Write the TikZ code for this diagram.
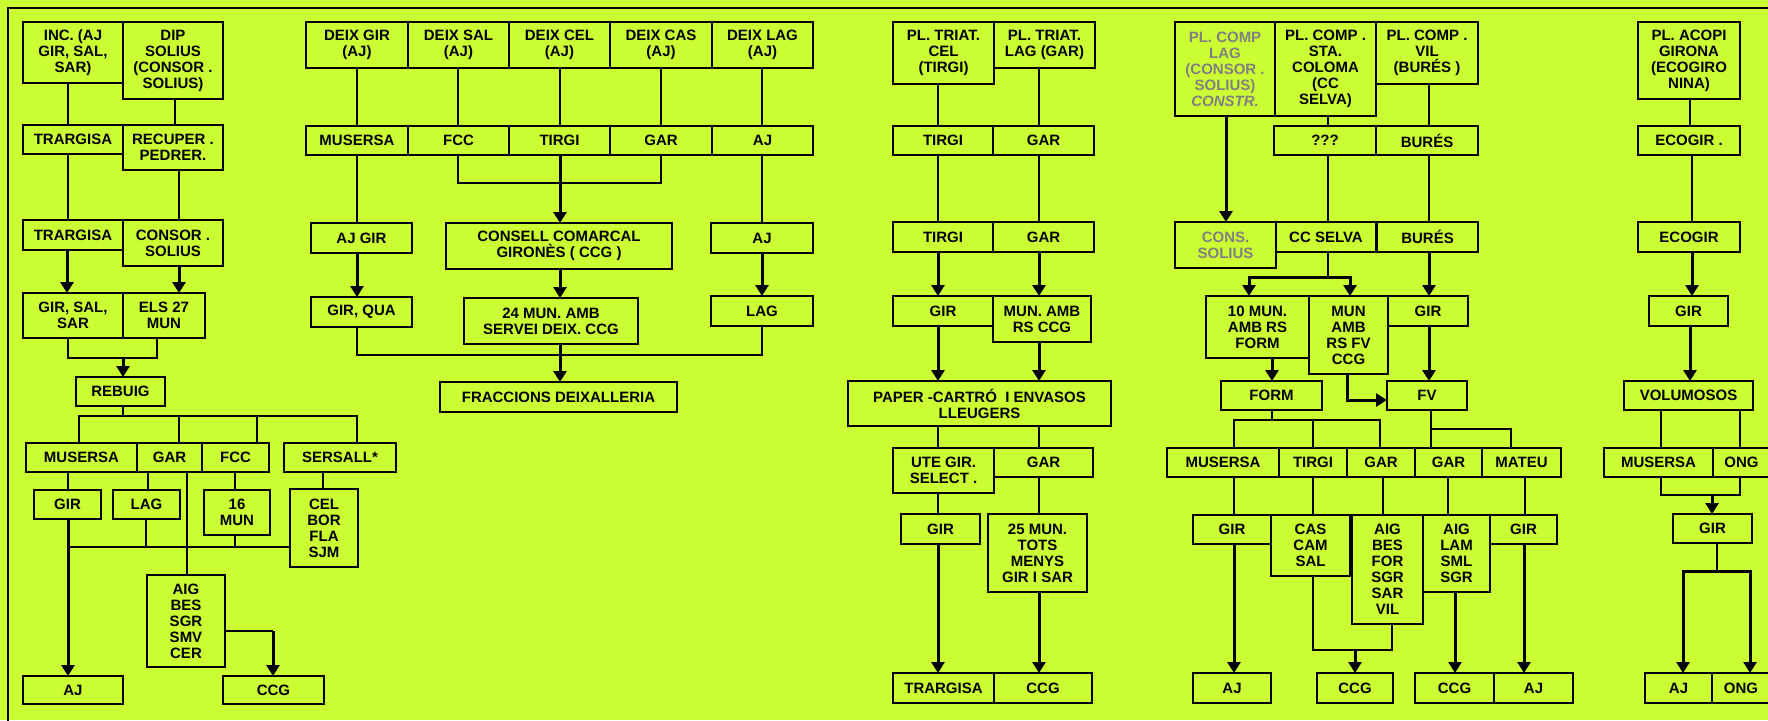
\documentclass[tikz,border=0pt]{standalone}
\usepackage{fontspec}
\setmainfont{Liberation Sans}
\usetikzlibrary{arrows.meta}
\definecolor{bg}{RGB}{204,255,51}
\definecolor{greytxt}{RGB}{128,128,128}
\tikzset{
  box/.style={draw=black, line width=1pt, inner sep=0pt, outer sep=0pt, align=center,
    font=\fontsize{7.5}{8}\selectfont\bfseries, rectangle},
  greybox/.style={box, text=greytxt},
  thinln/.style={line width=0.75pt},
  thickln/.style={line width=1.5pt},
  thickar/.style={line width=1.5pt, -{Triangle[width=6.5pt,length=5.5pt]}},
}
\newcommand\bx[6]{\node[box, minimum width={(#4-#2)*0.5pt}, minimum height={(#5-#3)*0.5pt}] (#1) at ({(#2+#4)/2},{(#3+#5)/2}) {#6};}
\newcommand\gbx[6]{\node[greybox, minimum width={(#4-#2)*0.5pt}, minimum height={(#5-#3)*0.5pt}] (#1) at ({(#2+#4)/2},{(#3+#5)/2}) {#6};}
\newcommand\Cthin[3]{\draw[thinln] (#1,0 |- #2.south) -- (#1,0 |- #3.north);}
\newcommand\Carrow[3]{\draw[thickar] (#1,0 |- #2.south) -- (#1,0 |- #3.north);}
\begin{document}
\begin{tikzpicture}[x=0.5pt, y=-0.5pt]
\fill[bg] (0,0) rectangle (1768,720);
\useasboundingbox (0,0) rectangle (1768,720);
\draw[line width=1pt] (8,730) -- (8,8) -- (1780,8);

% ---------- Column 1 ----------
\bx{inc}{23}{22}{123}{83}{INC. (AJ\\GIR, SAL,\\SAR)}
\bx{dip}{123}{22}{223}{99}{DIP\\SOLIUS\\(CONSOR .\\SOLIUS)}
\bx{trgA}{23}{125}{123}{154}{TRARGISA}
\bx{rec}{123}{125}{223}{170}{RECUPER .\\PEDRER.}
\bx{trgB}{23}{220}{123}{250}{TRARGISA}
\bx{cso}{123}{220}{223}{266}{CONSOR .\\SOLIUS}
\bx{gss}{23}{293}{123}{338}{GIR, SAL,\\SAR}
\bx{els}{123}{293}{205}{338}{ELS 27\\MUN}
\bx{reb}{76}{377}{165}{406}{REBUIG}
\bx{mus1}{26}{443}{137}{472}{MUSERSA}
\bx{gar1}{137}{443}{202}{472}{GAR}
\bx{fcc1}{202}{443}{269}{472}{FCC}
\bx{ser}{284}{443}{396}{472}{SERSALL*}
\bx{gir1}{34}{490}{101}{519}{GIR}
\bx{lag1}{113}{490}{180}{519}{LAG}
\bx{m16}{204}{490}{270}{535}{16\\MUN}
\bx{cel}{290}{489}{358}{567}{CEL\\BOR\\FLA\\SJM}
\bx{aig1}{147}{575}{225}{667}{AIG\\BES\\SGR\\SMV\\CER}
\bx{aj1}{23}{676}{123}{704}{AJ}
\bx{ccg1}{223}{676}{324}{704}{CCG}

\Cthin{68}{inc}{trgA}
\Cthin{175}{dip}{rec}
\Cthin{68}{trgA}{trgB}
\Cthin{179}{rec}{cso}
\Carrow{67}{trgB}{gss}
\Carrow{179}{cso}{els}
\draw[thinln] (68,0 |- gss.south) -- (68,358) -- (157,358) -- (157,0 |- els.south);
\draw[thickar] (123,358) -- (123,0 |- reb.north);
\draw[thinln] (123,0 |- reb.south) -- (123,416);
\draw[thinln] (79,0 |- mus1.north) -- (79,416) -- (357,416) -- (357,0 |- ser.north);
\draw[thinln] (179,416) -- (179,0 |- gar1.north);
\draw[thinln] (257,416) -- (257,0 |- fcc1.north);
\Cthin{68}{mus1}{gir1}
\Cthin{148}{gar1}{lag1}
\Cthin{235}{fcc1}{m16}
\Cthin{187}{gar1}{aig1}
\Cthin{323}{ser}{cel}
\draw[thinln] (68,547) -- (cel.west |- 0,547);
\draw[thinln] (146,0 |- lag1.south) -- (146,547);
\draw[thinln] (235,0 |- m16.south) -- (235,547);
\Carrow{68}{gir1}{aj1}
\draw[thinln] (aig1.east |- 0,631) -- (273,631);
\draw[thickar] (273,631) -- (273,0 |- ccg1.north);

% ---------- Column 2 ----------
\bx{dgir}{306}{22}{408}{68}{DEIX GIR\\(AJ)}
\bx{dsal}{408}{22}{509}{68}{DEIX SAL\\(AJ)}
\bx{dcel}{509}{22}{610}{68}{DEIX CEL\\(AJ)}
\bx{dcas}{610}{22}{712}{68}{DEIX CAS\\(AJ)}
\bx{dlag}{712}{22}{813}{68}{DEIX LAG\\(AJ)}
\bx{mus2}{306}{126}{408}{155}{MUSERSA}
\bx{fcc2}{408}{126}{509}{155}{FCC}
\bx{tir2}{509}{126}{610}{155}{TIRGI}
\bx{gar2}{610}{126}{712}{155}{GAR}
\bx{aj2}{712}{126}{813}{155}{AJ}
\bx{ajgir}{311}{223}{412}{253}{AJ GIR}
\bx{girqua}{311}{297}{412}{327}{GIR, QUA}
\bx{cons}{446}{223}{672}{269}{CONSELL COMARCAL\\GIRONÈS ( CCG )}
\bx{m24}{464}{298}{638}{344}{24 MUN. AMB\\SERVEI DEIX. CCG}
\bx{frac}{440}{382}{677}{412}{FRACCIONS DEIXALLERIA}
\bx{aj3}{711}{223}{813}{253}{AJ}
\bx{lag2}{711}{296}{813}{326}{LAG}

\Cthin{357}{dgir}{mus2}
\Cthin{458}{dsal}{fcc2}
\Cthin{560}{dcel}{tir2}
\Cthin{661}{dcas}{gar2}
\Cthin{762}{dlag}{aj2}
\Cthin{357}{mus2}{ajgir}
\Carrow{357}{ajgir}{girqua}
\draw[thinln] (458,0 |- fcc2.south) -- (458,183) -- (661,183) -- (661,0 |- gar2.south);
\Carrow{560}{tir2}{cons}
\Carrow{560}{cons}{m24}
\draw[thinln] (357,0 |- girqua.south) -- (357,355) -- (762,355) -- (762,0 |- lag2.south);
\Carrow{560}{m24}{frac}
\Cthin{762}{aj2}{aj3}
\Carrow{762}{aj3}{lag2}

% ---------- Column 3 ----------
\bx{ptc}{893}{22}{994}{84}{PL. TRIAT.\\CEL\\(TIRGI)}
\bx{ptl}{994}{22}{1095}{68}{PL. TRIAT.\\LAG (GAR)}
\bx{tir3}{893}{126}{993}{155}{TIRGI}
\bx{gar3}{993}{126}{1094}{155}{GAR}
\bx{tir4}{893}{222}{993}{252}{TIRGI}
\bx{gar4}{993}{222}{1094}{252}{GAR}
\bx{gir3}{893}{296}{993}{326}{GIR}
\bx{munrs}{993}{296}{1091}{342}{MUN. AMB\\RS CCG}
\bx{paper}{848}{381}{1111}{426}{PAPER -CARTRÓ\ \ I ENVASOS\\LLEUGERS}
\bx{ute}{893}{448}{994}{493}{UTE GIR.\\SELECT .}
\bx{gar5}{994}{448}{1093}{477}{GAR}
\bx{gir4}{901}{514}{980}{544}{GIR}
\bx{m25}{988}{514}{1087}{592}{25 MUN.\\TOTS\\MENYS\\GIR I SAR}
\bx{trg3}{893}{673}{994}{703}{TRARGISA}
\bx{ccg3}{994}{673}{1092}{703}{CCG}

\Cthin{938}{ptc}{tir3}
\Cthin{1039}{ptl}{gar3}
\Cthin{938}{tir3}{tir4}
\Cthin{1039}{gar3}{gar4}
\Carrow{938}{tir4}{gir3}
\Carrow{1039}{gar4}{munrs}
\Carrow{938}{gir3}{paper}
\Carrow{1039}{munrs}{paper}
\Cthin{938}{paper}{ute}
\Cthin{1039}{paper}{gar5}
\Cthin{938}{ute}{gir4}
\Cthin{1039}{gar5}{m25}
\Carrow{938}{gir4}{trg3}
\Carrow{1039}{m25}{ccg3}

% ---------- Column 4 ----------
\gbx{pcl}{1175}{22}{1275}{116}{PL. COMP\\LAG\\(CONSOR .\\SOLIUS)\\\textit{CONSTR.}}
\bx{pcs}{1275}{22}{1376}{116}{PL. COMP .\\STA.\\COLOMA\\(CC\\SELVA)}
\bx{pcv}{1376}{22}{1478}{84}{PL. COMP .\\VIL\\(BURÉS )}
\bx{qqq}{1274}{126}{1376}{155}{???}
\bx{bur1}{1376}{126}{1478}{155}{BURÉS}
\gbx{cns}{1175}{222}{1276}{268}{CONS.\\SOLIUS}
\bx{ccs}{1276}{222}{1376}{252}{CC SELVA}
\bx{bur2}{1377}{222}{1478}{252}{BURÉS}
\bx{m10}{1206}{296}{1309}{358}{10 MUN.\\AMB RS\\FORM}
\bx{mfv}{1309}{296}{1388}{374}{MUN\\AMB\\RS FV\\CCG}
\bx{gir5}{1388}{296}{1468}{326}{GIR}
\bx{form}{1221}{381}{1322}{410}{FORM}
\bx{fv}{1387}{381}{1467}{410}{FV}
\bx{mus4}{1167}{448}{1279}{477}{MUSERSA}
\bx{tir5}{1279}{448}{1347}{477}{TIRGI}
\bx{gar6}{1347}{448}{1415}{477}{GAR}
\bx{gar7}{1415}{448}{1482}{477}{GAR}
\bx{mat}{1482}{448}{1561}{477}{MATEU}
\bx{gir6}{1193}{515}{1271}{544}{GIR}
\bx{cas}{1271}{515}{1350}{576}{CAS\\CAM\\SAL}
\bx{aig2}{1352}{515}{1423}{624}{AIG\\BES\\FOR\\SGR\\SAR\\VIL}
\bx{aig3}{1423}{515}{1490}{592}{AIG\\LAM\\SML\\SGR}
\bx{gir7}{1490}{515}{1557}{544}{GIR}
\bx{aj4}{1193}{673}{1271}{703}{AJ}
\bx{ccg4}{1317}{673}{1393}{703}{CCG}
\bx{ccg5}{1415}{673}{1494}{703}{CCG}
\bx{aj5}{1494}{673}{1573}{703}{AJ}

\Carrow{1226}{pcl}{cns}
\Cthin{1328}{pcs}{qqq}
\Cthin{1429}{pcv}{bur1}
\Cthin{1328}{qqq}{ccs}
\Cthin{1429}{bur1}{bur2}
\draw[thinln] (1328,0 |- ccs.south) -- (1328,277);
\draw[thickar] (1328,277) -| (1249,0 |- m10.north);
\draw[thickar] (1328,277) -| (1350,0 |- mfv.north);
\Carrow{1429}{bur2}{gir5}
\Carrow{1272}{m10}{form}
\draw[thickar] (1347,0 |- mfv.south) |- (fv.west |- 0,400);
\Carrow{1429}{gir5}{fv}
\draw[thinln] (1272,0 |- form.south) -- (1272,420);
\draw[thinln] (1234,0 |- mus4.north) -- (1234,420) -- (1380,420) -- (1380,0 |- gar6.north);
\draw[thinln] (1313,420) -- (1313,0 |- tir5.north);
\Cthin{1431}{fv}{gar7}
\draw[thinln] (1431,429) -- (1511,429) -- (1511,0 |- mat.north);
\Cthin{1234}{mus4}{gir6}
\Cthin{1313}{tir5}{cas}
\Cthin{1383}{gar6}{aig2}
\Cthin{1448}{gar7}{aig3}
\Cthin{1525}{mat}{gir7}
\Carrow{1234}{gir6}{aj4}
\draw[thinln] (1313,0 |- cas.south) -- (1313,650) -- (1392,650) -- (1392,0 |- aig2.south);
\draw[thickar] (1355,650) -- (1355,0 |- ccg4.north);
\Carrow{1455}{aig3}{ccg5}
\Carrow{1524}{gir7}{aj5}

% ---------- Column 5 ----------
\bx{pac}{1638}{22}{1740}{99}{PL. ACOPI\\GIRONA\\(ECOGIRO\\NINA)}
\bx{eco1}{1638}{126}{1740}{155}{ECOGIR .}
\bx{eco2}{1638}{222}{1740}{252}{ECOGIR}
\bx{gir8}{1649}{296}{1728}{326}{GIR}
\bx{vol}{1624}{381}{1753}{410}{VOLUMOSOS}
\bx{mus5}{1604}{448}{1713}{477}{MUSERSA}
\bx{ong1}{1713}{448}{1770}{477}{ONG}
\bx{gir9}{1673}{514}{1752}{543}{GIR}
\bx{aj6}{1645}{673}{1712}{703}{AJ}
\bx{ong2}{1712}{673}{1770}{703}{ONG}

\Cthin{1690}{pac}{eco1}
\Cthin{1692}{eco1}{eco2}
\Carrow{1692}{eco2}{gir8}
\Carrow{1690}{gir8}{vol}
\Cthin{1661}{vol}{mus5}
\Cthin{1740}{vol}{ong1}
\draw[thinln] (1661,0 |- mus5.south) -- (1661,495) -- (1740,495) -- (1740,0 |- ong1.south);
\draw[thickar] (1712,495) -- (1712,0 |- gir9.north);
\draw[thinln] (1717,0 |- gir9.south) -- (1717,571);
\draw[thickar] (1717,571) -| (1683,0 |- aj6.north);
\draw[thickar] (1717,571) -| (1750,0 |- ong2.north);
\end{tikzpicture}
\end{document}
